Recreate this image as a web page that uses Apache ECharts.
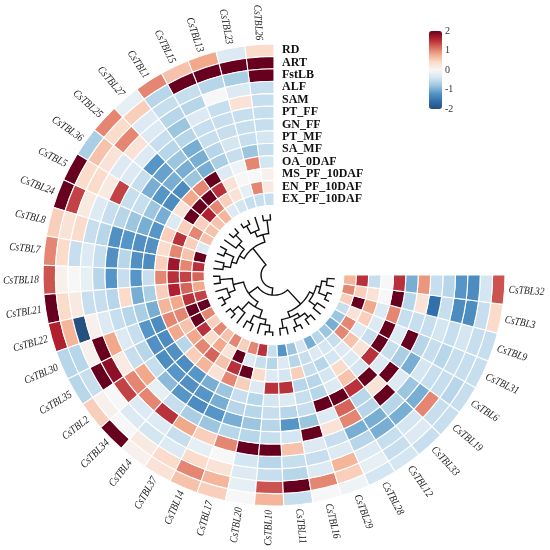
<!DOCTYPE html>
<html lang="en">
<head>
<meta charset="utf-8">
<title>CsTBL expression circos heatmap</title>
<script src="https://cdn.jsdelivr.net/npm/echarts@6/dist/echarts.min.js"></script>
<style>
  html, body { margin: 0; padding: 0; background: #fff; }
  #chart { width: 550px; height: 550px; }
</style>
</head>
<body>
<div id="chart"></div>
<script>
// genes in ring order, counter-clockwise from 12 o'clock
var genes = ['CsTBL26','CsTBL23','CsTBL13','CsTBL15','CsTBL1','CsTBL27','CsTBL25','CsTBL36','CsTBL5','CsTBL24',
  'CsTBL8','CsTBL7','CsTBL18','CsTBL21','CsTBL22','CsTBL30','CsTBL35','CsTBL2','CsTBL34','CsTBL4',
  'CsTBL37','CsTBL14','CsTBL17','CsTBL20','CsTBL10','CsTBL11','CsTBL16','CsTBL29','CsTBL28','CsTBL12',
  'CsTBL33','CsTBL19','CsTBL6','CsTBL31','CsTBL9','CsTBL3','CsTBL32'];

// tissues, outer ring first
var tissues = ['RD','ART','FstLB','ALF','SAM','PT_FF','GN_FF','PT_MF','SA_MF','OA_0DAF','MS_PF_10DAF','EN_PF_10DAF','EX_PF_10DAF'];

// z-scores per tissue (one value per gene, same order as genes)
var RD    = [0.4,-0.3,0.8,0.6,1.0,-0.2,1.0,-0.7,2,2,0.5,1.0,1.3,2,1.6,-0.6,-0.6,0.5,2,0.1,0.3,0.6,0.5,0,0.7,-0.5,0,-0.1,-0.4,-0.4,-0.5,-0.5,-0.5,-0.5,-0.5,0.4,1.3];
var ART   = [2,2,2,2,-0.6,0.5,0.4,0.6,0.4,1.4,0.3,0.4,0.1,0.4,0.7,-0.6,-0.5,0.1,0,0.2,0.4,1.0,0.7,-0.2,1.3,2,1.0,0.5,-0.2,-0.5,-0.3,-0.5,-0.6,-0.5,-0.5,-0.5,-0.4];
var FstLB = [2,-0.7,-0.6,-0.5,-0.5,-0.3,1.0,0.3,0.4,0.2,0.4,-0.5,0,0.2,-2,0.1,2,0,-0.3,-0.4,-0.3,0.4,0.3,-0.3,-0.5,-0.6,-0.3,0.7,-0.3,-0.5,-0.4,1.0,-0.5,-0.5,-0.4,-1.3,-1.3];
var ALF   = [-0.5,-0.3,0,-0.6,-0.6,-0.3,0.3,-0.3,0.2,-0.3,-0.5,-0.3,-0.2,-0.5,0.1,2,1.8,1.4,-0.3,-0.3,-0.5,-0.2,0,-0.4,-0.6,-0.5,-0.5,-0.3,-0.6,-1.0,-1.0,-1.0,-0.5,-0.6,-0.5,-1.3,-1.2];
var SAM   = [-0.5,0.3,-0.5,-0.3,-0.8,-0.5,-0.3,-0.3,1.4,-0.5,-0.6,-0.5,-0.6,-0.5,-0.3,0.8,0.2,1.0,1.0,1.5,0.8,0.5,1.0,2,2,0.6,-0.3,-0.5,-1.0,-1.0,-0.6,-0.8,-0.4,-0.5,-0.4,-0.5,-0.6];
var PT_FF = [-0.5,-0.5,-0.5,-0.5,-0.6,-0.6,-1.2,-0.5,-0.5,-0.6,-1.25,-1.25,-1.2,-0.6,-0.5,-0.3,-0.5,0.8,-0.2,-0.5,-0.7,-0.8,-0.6,-0.6,-0.5,-0.4,2,0.3,1.0,-0.6,2,-0.3,-1.0,-0.6,-0.5,-1.6,-0.5];
var GN_FF = [-0.5,-0.5,-0.5,-0.5,-1.0,-0.8,-1.1,-1.0,-0.5,-0.8,-1.2,-0.6,-0.5,0.4,-0.6,-0.5,-0.6,-0.5,-0.9,-1.2,-1.3,-1.2,-1.0,-0.8,-0.6,-1.2,-0.8,-0.3,1.2,-0.6,0.3,2,-0.7,2,-0.5,0.3,0.9];
var PT_MF = [-0.4,-0.5,-0.4,-0.6,-1.0,-1.0,-1.0,-1.2,-0.8,-1.0,-1.25,-1.25,-1.2,-1.0,-0.7,-1.2,-1.25,-1.3,-1.2,-1.25,-1.2,-1.0,-0.6,-0.6,-0.5,-0.6,-0.5,2,2,1.5,2,-0.3,-0.5,-0.3,-0.5,-0.6,-1.0];
var SA_MF = [-0.5,-0.8,-0.5,-0.7,-1.0,-0.8,-1.3,-1.3,-1.0,-1.2,-1.25,-1.3,-0.5,-0.7,-1.0,-1.3,-1.3,-1.25,-1.3,-1.2,-1.0,-0.8,-0.5,-0.6,-0.4,-0.3,-0.5,-0.6,-0.3,0.6,-0.4,1.5,2,2,1.0,2,1.5];
var OA_0DAF     = [-0.4,1.0,-0.1,-0.3,2,1.0,0.8,0.3,-0.3,0.5,0.4,0.5,1.0,0.5,0.7,1.0,0.8,-0.6,0.5,0.7,0.3,1.0,0.5,-0.3,1.5,1.5,-0.6,-0.6,-0.4,0.4,-0.3,0.3,-0.5,-0.3,-0.3,0,0];
var MS_PF_10DAF = [0.1,0,0,0.3,1.5,2,2,2,0.5,1.5,1.0,1.7,1.5,1.6,0.8,1.0,0.6,0.8,1.0,1.2,0.6,1.5,2,0.4,-0.3,-0.4,0.5,-0.5,-0.6,-0.4,-0.3,0.6,-0.3,0.5,0.8,0.3,-0.5];
var EN_PF_10DAF = [0.2,1.0,-0.2,0.3,0.5,1.0,1.6,0.5,1.0,0.5,0.6,1.0,1.4,1.2,1.5,2,2,1.5,0.4,0.8,0.3,2,-0.3,-0.5,-0.6,-0.3,-0.6,-0.5,-0.3,-0.4,-0.5,1.0,1.0,0.3,2,0.5,1.5];
var EX_PF_10DAF = [-0.5,-0.5,-0.5,-0.4,-0.3,0.7,0.6,0.6,0.6,-0.3,2,1.5,1.2,0.8,1.4,2,1.0,0.5,1.0,0.6,1.0,0.5,1.0,1.5,-0.5,-1.2,-0.8,-0.4,-1.0,-0.6,-0.8,-1.0,-0.8,-0.5,0.5,1.0,0.7];

var expr = [RD, ART, FstLB, ALF, SAM, PT_FF, GN_FF, PT_MF, SA_MF, OA_0DAF, MS_PF_10DAF, EN_PF_10DAF, EX_PF_10DAF];

// legend ticks
var colorTicks = [-2, -1, 0, 1, 2];

// gene clustering: [mergeHeight, left, right], leaves are gene indices
var tree = [1.0,
  [0.56,
    [0.40, [0.12, 0, 1], [0.28, 2, [0.10, 3, 4]]],
    [0.45, [0.30, [0.12, 5, 6], 7], [0.35, [0.15, 8, 9], [0.20, 10, 11]]]],
  [0.85,
    [0.62,
      [0.40, [0.14, 12, 13], [0.25, 14, [0.10, 15, 16]]],
      [0.50, [0.28, [0.12, 17, 18], 19], [0.33, [0.16, 20, 21], [0.22, 22, [0.08, 23, 24]]]]],
    [0.45,
      [0.33, [0.15, 25, 26], [0.25, [0.10, 27, 28], [0.14, 29, 30]]],
      [0.36, [0.20, 31, 32], [0.27, [0.10, 33, 34], [0.16, 35, 36]]]]]
];

var cells = [];
expr.forEach(function (row, k) {
  row.forEach(function (v, i) { cells.push([k, i, v]); });
});

// dendrogram links: [height, posLeft, posRight, heightLeft, heightRight]
var links = [];
function walk(node) {
  if (typeof node === 'number') return { pos: node + 0.5, h: 0 };
  var l = walk(node[1]), r = walk(node[2]);
  links.push([node[0], l.pos, r.pos, l.h, r.h]);
  return { pos: (l.pos + r.pos) / 2, h: node[0] };
}
walk(tree);

var angleMax = genes.length / 0.75;   // genes fill 270 degrees, 90 degree gap

function angleOf(p, cs) {
  return Math.atan2(cs.cy - p[1], p[0] - cs.cx);
}

var chart = echarts.init(document.getElementById('chart'));

chart.setOption({
  animation: false,
  polar: [
    { center: [274, 275], radius: [69.8, 231] },
    { center: [274, 275], radius: [0, 61] }
  ],
  angleAxis: [
    { polarIndex: 0, type: 'value', min: 0, max: angleMax, startAngle: 90, clockwise: false, show: false },
    { polarIndex: 1, type: 'value', min: 0, max: angleMax, startAngle: 90, clockwise: false, show: false }
  ],
  radiusAxis: [
    { polarIndex: 0, type: 'value', min: 0, max: tissues.length, inverse: true, show: false },
    { polarIndex: 1, type: 'value', min: 0, max: 1.27, inverse: true, show: false }
  ],
  grid: { left: 429, top: 31, width: 13, height: 78 },
  xAxis: { type: 'value', show: false },
  yAxis: {
    type: 'value', position: 'right',
    min: colorTicks[0], max: colorTicks[colorTicks.length - 1], interval: 1,
    axisLine: { show: false }, axisTick: { show: false }, splitLine: { show: false },
    axisLabel: { margin: 3, color: '#333', fontSize: 10, fontFamily: 'Liberation Serif' }
  },
  visualMap: {
    type: 'continuous', min: -2, max: 2, seriesIndex: 0, dimension: 2,
    calculable: false, orient: 'vertical', left: 429, top: 31, padding: 0,
    itemWidth: 13, itemHeight: 78,
    inRange: { color: ['#24517f','#3270ab','#5695c7','#9cc6e0','#d4e6f1','#f7f7f7','#fbdccb','#f2a88a','#d5645a','#b0202f','#67001f'] }
  },
  series: [
    {
      type: 'custom', coordinateSystem: 'polar', polarIndex: 0, data: cells,
      renderItem: function (params, api) {
        var cs = params.coordSys;
        var k = api.value(0), i = api.value(1);
        var pIn = api.coord([k + 1, i]);
        var pOut = api.coord([k, i + 1]);
        var r0 = Math.hypot(pIn[0] - cs.cx, pIn[1] - cs.cy);
        var r = Math.hypot(pOut[0] - cs.cx, pOut[1] - cs.cy);
        var a0 = angleOf(pIn, cs), a1 = angleOf(pOut, cs);
        while (a1 <= a0) a1 += Math.PI * 2;
        return {
          type: 'sector',
          shape: { cx: cs.cx, cy: cs.cy, r0: r0, r: r, startAngle: -a1, endAngle: -a0, clockwise: true },
          style: { fill: api.visual('color'), stroke: '#fff', lineWidth: 1.1 }
        };
      }
    },
    {
      type: 'custom', coordinateSystem: 'polar', polarIndex: 0,
      data: genes.map(function (g, i) { return [0, i]; }),
      renderItem: function (params, api) {
        var cs = params.coordSys;
        var i = params.dataIndex;
        var p = api.coord([-0.33, i + 0.5]);
        var a = angleOf(p, cs);
        var right = Math.cos(a) >= 0;
        return {
          type: 'text', x: p[0], y: p[1],
          rotation: right ? a : a - Math.PI, scaleX: 0.86,
          style: {
            text: genes[i], align: right ? 'left' : 'right', verticalAlign: 'middle',
            font: 'italic 11px "Liberation Serif"', fill: '#222'
          }
        };
      }
    },
    {
      type: 'custom', coordinateSystem: 'polar', polarIndex: 0,
      data: tissues.map(function (t, k) { return [k, 0]; }),
      renderItem: function (params, api) {
        var k = params.dataIndex;
        var p = api.coord([k + 0.5, 0]);
        return {
          type: 'text', x: p[0] + 8, y: p[1],
          style: {
            text: tissues[k], align: 'left', verticalAlign: 'middle',
            font: 'bold 12px "Liberation Serif"', fill: '#111'
          }
        };
      }
    },
    {
      type: 'custom', coordinateSystem: 'polar', polarIndex: 1, data: links,
      renderItem: function (params, api) {
        var h = api.value(0), aL = api.value(1), aR = api.value(2);
        var pts = [api.coord([api.value(3), aL])];
        var steps = Math.max(2, Math.ceil(Math.abs(aR - aL) * 3));
        for (var s = 0; s <= steps; s++) {
          pts.push(api.coord([h, aL + (aR - aL) * s / steps]));
        }
        pts.push(api.coord([api.value(4), aR]));
        return {
          type: 'polyline',
          shape: { points: pts.map(function (p) { return [p[0], p[1]]; }) },
          style: { stroke: '#111', lineWidth: 1.4, fill: null }
        };
      }
    }
  ]
});
</script>
</body>
</html>
